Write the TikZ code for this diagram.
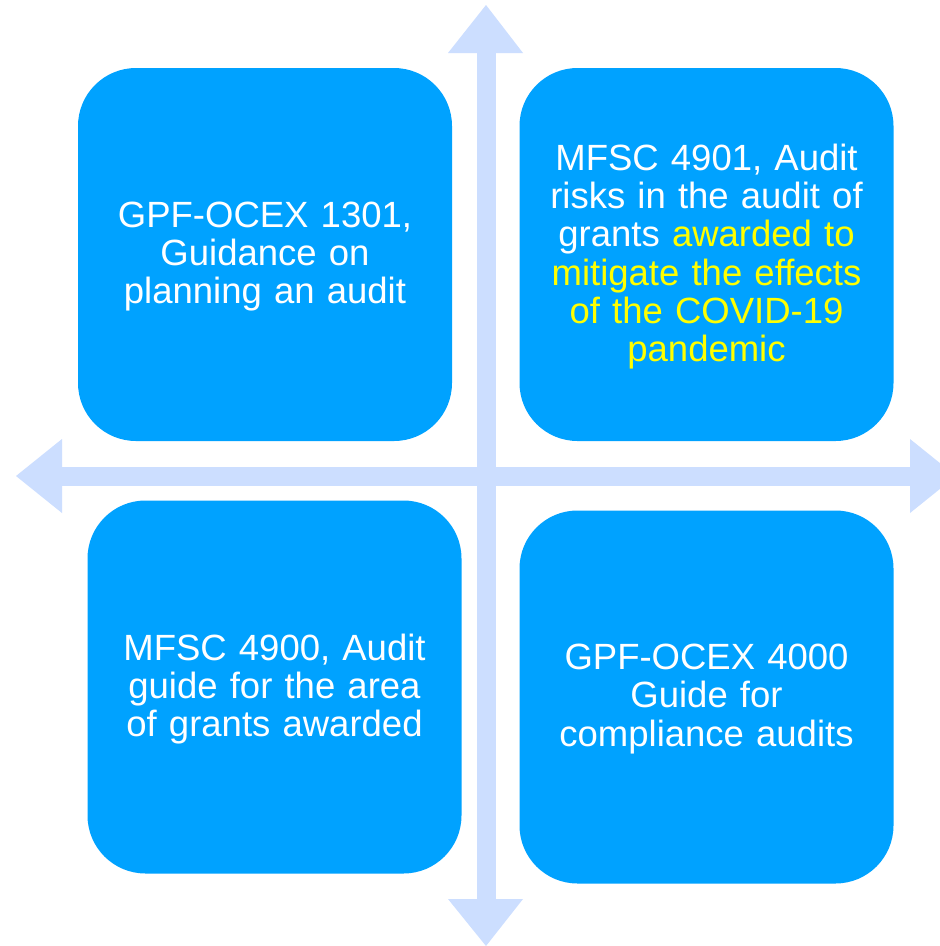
\documentclass[tikz,border=0pt]{standalone}
\usepackage{fontspec}
\setmainfont{Liberation Sans}
\definecolor{boxblue}{RGB}{0,162,255}
\definecolor{arrowblue}{RGB}{204,222,255}
\definecolor{hiyellow}{RGB}{255,255,0}
\tikzset{
  quadbox/.style={draw=none, fill=boxblue, rounded corners=58pt, minimum width=374pt, minimum height=373pt,
    inner sep=0pt, text width=360pt, align=center, text=white, font=\fontsize{36.5}{38.3}\selectfont},
  quadtext/.style={inner sep=0pt, text width=360pt, align=center, text=white, font=\fontsize{36.5}{38.3}\selectfont},
  axisfill/.style={fill=arrowblue, draw=none}
}
\begin{document}
\begin{tikzpicture}[x=1pt,y=-1pt]
\useasboundingbox (0,0) rectangle (940,946);
\clip (0,0) rectangle (940,946);
\fill[white] (0,0) rectangle (940,946);
% axes
\coordinate (vtop) at (486,5);
\coordinate (vbot) at (486,946);
\coordinate (hleft) at (16,476);
\coordinate (hright) at (956,476);
\fill[axisfill] (476.5,53) rectangle (495.5,899);
\fill[axisfill] (62,466.5) rectangle (910,485.5);
\fill[axisfill] (448,53) -- (vtop) -- (523,53) -- cycle;
\fill[axisfill] (448,899) -- (vbot) -- (523,899) -- cycle;
\fill[axisfill] (62,439) -- (hleft) -- (62,513) -- cycle;
\fill[axisfill] (910,439) -- (hright) -- (910,513) -- cycle;
% boxes
\node[quadbox] (tl) at (265,254.5) {};
\node[quadbox] (tr) at (706.5,254.5) {};
\node[quadbox] (bl) at (274.5,687) {};
\node[quadbox] (br) at (706.5,697) {};
% texts
\node[quadtext] (tltext) at ([yshift=-2pt]tl.center) {GPF-OCEX 1301,\\Guidance on\\planning an audit};
\node[quadtext] (trtext) at ([yshift=-2pt]tr.center) {MFSC 4901, Audit\\risks in the audit of\\grants \textcolor{hiyellow}{awarded to}\\\textcolor{hiyellow}{mitigate the effects}\\\textcolor{hiyellow}{of the COVID-19}\\\textcolor{hiyellow}{pandemic}};
\node[quadtext] (bltext) at ([yshift=-2pt]bl.center) {MFSC 4900, Audit\\guide for the area\\of grants awarded};
\node[quadtext] (brtext) at ([yshift=-2pt]br.center) {GPF-OCEX 4000\\Guide for\\compliance audits};
\end{tikzpicture}
\end{document}
